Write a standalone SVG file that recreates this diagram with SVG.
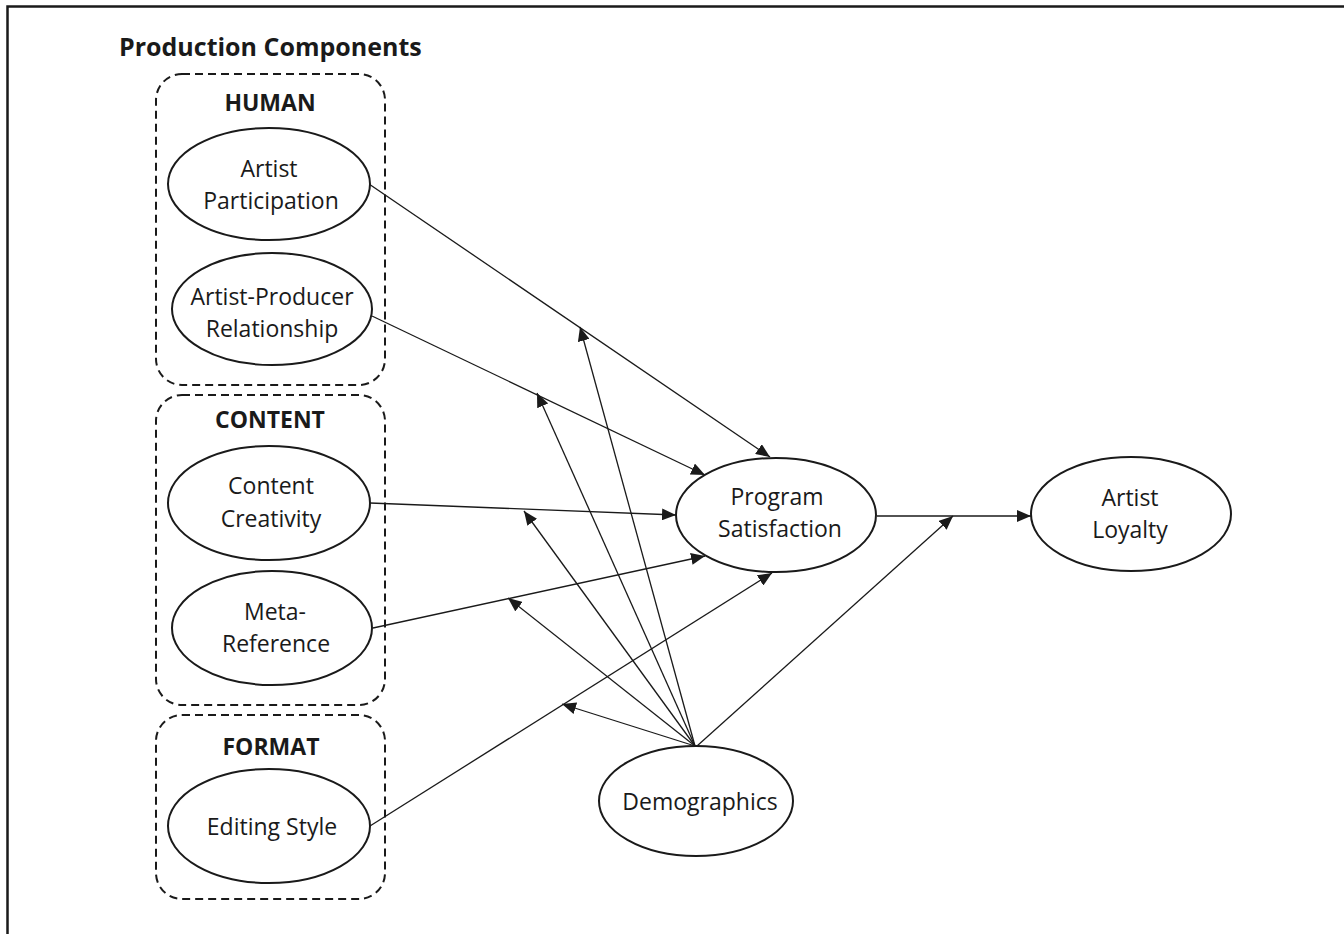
<svg xmlns="http://www.w3.org/2000/svg" width="1344" height="934" viewBox="0 0 1344 934">
<defs>
<style>
.t{font-family:"Open Sans","Liberation Sans",sans-serif;font-size:23px;fill:#1a1a1a;text-anchor:middle}
.b{font-family:"Open Sans","Liberation Sans",sans-serif;font-size:23px;font-weight:bold;fill:#1a1a1a;text-anchor:middle}
.e{fill:#fff;stroke:#1a1a1a;stroke-width:2}
.g{fill:none;stroke:#1a1a1a;stroke-width:2;stroke-dasharray:8,5}
.c{fill:none;stroke:#1a1a1a;stroke-width:1.3}
</style>
<marker id="ah" markerUnits="userSpaceOnUse" markerWidth="14" markerHeight="12" viewBox="0 0 14 12" refX="14" refY="6" orient="auto">
<path d="M0,0 L14,6 L0,12 Z" fill="#1a1a1a"/>
</marker>
</defs>
<rect width="1344" height="934" fill="#fff"/>
<path d="M7.5,934 V6.5 H1344" fill="none" stroke="#1a1a1a" stroke-width="2.5"/>
<text x="119" y="56" font-family="Open Sans,Liberation Sans,sans-serif" font-size="25" font-weight="bold" fill="#1a1a1a">Production Components</text>

<g id="groups">
<rect id="human-box" class="g" x="156" y="74" width="229" height="311" rx="26"/>
<rect id="content-box" class="g" x="156" y="395" width="229" height="310" rx="26"/>
<rect id="format-box" class="g" x="156" y="715" width="229" height="184" rx="26"/>
<text class="b" x="270" y="111">HUMAN</text>
<text class="b" x="270" y="428">CONTENT</text>
<text class="b" x="271" y="755">FORMAT</text>
</g>

<g id="connectors">
<line class="c" x1="369" y1="184" x2="770" y2="457" marker-end="url(#ah)"/>
<line class="c" x1="372" y1="316" x2="705" y2="475" marker-end="url(#ah)"/>
<line class="c" x1="370" y1="503" x2="676" y2="515" marker-end="url(#ah)"/>
<line class="c" x1="373" y1="628" x2="705" y2="556" marker-end="url(#ah)"/>
<line class="c" x1="370" y1="826" x2="772" y2="573" marker-end="url(#ah)"/>
<line class="c" x1="877" y1="516" x2="1031" y2="516" marker-end="url(#ah)"/>
<line class="c" x1="695" y1="746" x2="580" y2="327" marker-end="url(#ah)"/>
<line class="c" x1="695" y1="746" x2="537" y2="393" marker-end="url(#ah)"/>
<line class="c" x1="695" y1="746" x2="524" y2="511" marker-end="url(#ah)"/>
<line class="c" x1="695" y1="746" x2="508" y2="598" marker-end="url(#ah)"/>
<line class="c" x1="695" y1="746" x2="562" y2="704" marker-end="url(#ah)"/>
<line class="c" x1="697" y1="746" x2="953" y2="516" marker-end="url(#ah)"/>
</g>

<g id="artist-participation">
<ellipse class="e" cx="269" cy="184" rx="101" ry="56"/>
<text class="t" x="269" y="177">Artist</text>
<text class="t" x="271" y="209">Participation</text>
</g>
<g id="artist-producer-relationship">
<ellipse class="e" cx="272" cy="309" rx="100" ry="56"/>
<text class="t" x="272" y="305">Artist-Producer</text>
<text class="t" x="272" y="337">Relationship</text>
</g>
<g id="content-creativity">
<ellipse class="e" cx="269" cy="503" rx="101" ry="57"/>
<text class="t" x="271" y="494">Content</text>
<text class="t" x="271" y="527">Creativity</text>
</g>
<g id="meta-reference">
<ellipse class="e" cx="272" cy="628" rx="100" ry="57"/>
<text class="t" x="275" y="620">Meta-</text>
<text class="t" x="276" y="652">Reference</text>
</g>
<g id="editing-style">
<ellipse class="e" cx="269" cy="826" rx="101" ry="57"/>
<text class="t" x="272" y="835">Editing Style</text>
</g>
<g id="program-satisfaction">
<ellipse class="e" cx="776" cy="515" rx="100" ry="57"/>
<text class="t" x="777" y="505">Program</text>
<text class="t" x="780" y="537">Satisfaction</text>
</g>
<g id="artist-loyalty">
<ellipse class="e" cx="1131" cy="514" rx="100" ry="57"/>
<text class="t" x="1130" y="506">Artist</text>
<text class="t" x="1130" y="538">Loyalty</text>
</g>
<g id="demographics">
<ellipse class="e" cx="696" cy="801" rx="97" ry="55"/>
<text class="t" x="700" y="810">Demographics</text>
</g>
</svg>
